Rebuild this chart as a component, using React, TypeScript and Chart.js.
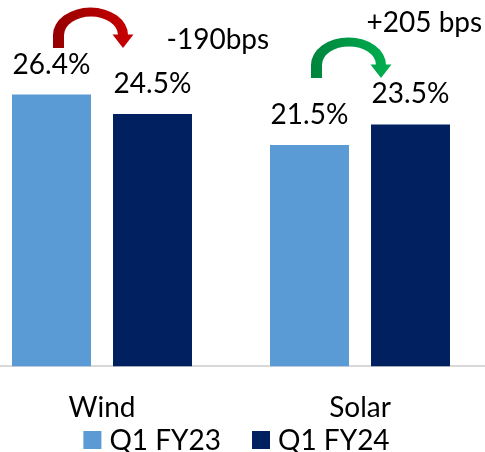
import React, { useEffect, useRef } from 'react';
import { Chart, registerables } from 'chart.js';

Chart.register(...registerables);

// Margin by technology, first quarter comparison
const categories = ['Wind', 'Solar'];
const seriesNames = ['Q1 FY23', 'Q1 FY24'];
const q1fy23 = [26.4, 21.5];
const q1fy24 = [24.5, 23.5];
const changeLabels = ['-190bps', '+205 bps'];

const seriesColors = ['#5B9BD5', '#002060'];
const FONT = 'Lato, "Liberation Sans", sans-serif';
const TEXT_SIZE = 28;

// where each change note sits, relative to the second bar of its group
const NOTE_OFFSETS: [number, number][] = [
  [14, -65],
  [-44, -92],
];

// Curved "from -> to" arrow: a tapered half-ring with a triangular head.
function drawArrow(
  ctx: CanvasRenderingContext2D,
  xl: number,
  xt: number,
  yBase: number,
  h: number,
  colors: [string, string]
) {
  const legW = 11;
  const endHalf = 5;
  const headHalf = 10.5;
  const headLen = 13;
  const ringTop = 9;
  const yc = yBase - headLen;
  const outerR = xt + endHalf;
  const innerR = xt - endHalf;
  const cxo = (xl + outerR) / 2;
  const rxo = (outerR - xl) / 2;
  const ryo = yc - (yBase - h);
  const cxi = (xl + legW + innerR) / 2;
  const rxi = (innerR - xl - legW) / 2;
  const ryi = ryo - ringTop;

  const g = ctx.createLinearGradient(xl, 0, xt + headHalf, 0);
  g.addColorStop(0, colors[0]);
  g.addColorStop(1, colors[1]);
  ctx.fillStyle = g;

  ctx.beginPath();
  ctx.moveTo(xl, yBase);
  ctx.lineTo(xl, yc);
  ctx.ellipse(cxo, yc, rxo, ryo, 0, Math.PI, 2 * Math.PI);
  ctx.lineTo(innerR, yc);
  ctx.ellipse(cxi, yc, rxi, ryi, 0, 2 * Math.PI, Math.PI, true);
  ctx.lineTo(xl + legW, yBase);
  ctx.closePath();
  ctx.fill();

  ctx.beginPath();
  ctx.moveTo(xt - headHalf, yc - 0.5);
  ctx.lineTo(xt + headHalf, yc - 0.5);
  ctx.lineTo(xt, yBase);
  ctx.closePath();
  ctx.fill();
}

const annotationsPlugin = {
  id: 'annotations',
  afterDatasetsDraw(chart: any) {
    const ctx: CanvasRenderingContext2D = chart.ctx;
    const m0 = chart.getDatasetMeta(0);
    const m1 = chart.getDatasetMeta(1);
    ctx.save();
    ctx.font = `${TEXT_SIZE}px ${FONT}`;
    ctx.fillStyle = '#000';
    ctx.textAlign = 'center';
    ctx.textBaseline = 'alphabetic';
    chart.data.datasets.forEach((ds: any, i: number) => {
      chart.getDatasetMeta(i).data.forEach((el: any, j: number) => {
        ctx.fillText(`${Number(ds.data[j]).toFixed(1)}%`, el.x, el.y - 21);
      });
    });

    categories.forEach((_, j) => {
      const a = m0.data[j];
      const b = m1.data[j];
      const up = q1fy24[j] >= q1fy23[j];
      const base = Math.min(a.y, b.y) - 46.5;
      drawArrow(ctx, a.x + 1.5, b.x - 29.5, base, 40.5, up ? ['#00843D', '#00B050'] : ['#960000', '#C80000']);
      ctx.fillStyle = '#000';
      ctx.textAlign = 'left';
      ctx.font = `${TEXT_SIZE}px ${FONT}`;
      ctx.fillText(changeLabels[j], b.x + NOTE_OFFSETS[j][0], b.y + NOTE_OFFSETS[j][1]);
    });
    ctx.restore();
  },
  afterDraw(chart: any) {
    // legend row along the bottom edge
    const ctx: CanvasRenderingContext2D = chart.ctx;
    ctx.save();
    ctx.font = `${TEXT_SIZE}px ${FONT}`;
    ctx.textBaseline = 'alphabetic';
    ctx.textAlign = 'left';
    const box = 18;
    const gap = 8;
    const itemGap = 31;
    const widths = seriesNames.map((n) => ctx.measureText(n).width);
    const total = widths.reduce((s, w) => s + box + gap + w, 0) + itemGap * (seriesNames.length - 1);
    let x = chart.width / 2 + 5.5 - total / 2;
    const boxTop = chart.height - 21;
    const baseline = chart.height - 2;
    seriesNames.forEach((n, i) => {
      ctx.fillStyle = seriesColors[i];
      ctx.fillRect(x, boxTop, box, box);
      ctx.fillStyle = '#000';
      ctx.fillText(n, x + box + gap, baseline);
      x += box + gap + widths[i] + itemGap;
    });
    ctx.restore();
  },
};

export default function App() {
  const ref = useRef<HTMLCanvasElement>(null);

  useEffect(() => {
    if (!ref.current) return;
    Chart.defaults.font.family = FONT;
    const chart = new Chart(ref.current, {
      type: 'bar',
      data: {
        labels: categories,
        datasets: [
          {
            label: seriesNames[0],
            data: q1fy23,
            backgroundColor: seriesColors[0],
            barPercentage: 0.782,
            categoryPercentage: 0.783,
          },
          {
            label: seriesNames[1],
            data: q1fy24,
            backgroundColor: seriesColors[1],
            barPercentage: 0.782,
            categoryPercentage: 0.783,
          },
        ],
      },
      options: {
        responsive: false,
        animation: false,
        devicePixelRatio: 1,
        layout: { padding: { top: 6, bottom: 2, left: 0, right: 0 } },
        plugins: {
          legend: { display: false },
          tooltip: { enabled: false },
        },
        scales: {
          x: {
            grid: { display: true, drawOnChartArea: false, drawTicks: false, color: 'rgba(0,0,0,0)' },
            border: { display: true, color: '#D9D9D9', width: 2 },
            ticks: { padding: 25, color: '#000', font: { size: TEXT_SIZE, family: FONT } },
          },
          y: {
            display: false,
            min: 0,
            max: 35,
          },
        },
      },
      plugins: [annotationsPlugin],
    });
    return () => chart.destroy();
  }, []);

  return (
    <div
      style={{
        position: 'fixed',
        left: 0,
        top: 0,
        width: 485,
        height: 452,
        overflow: 'hidden',
        background: '#fff',
      }}
    >
      <canvas ref={ref} width={516} height={452} style={{ position: 'absolute', left: -27, top: 0 }} />
    </div>
  );
}
